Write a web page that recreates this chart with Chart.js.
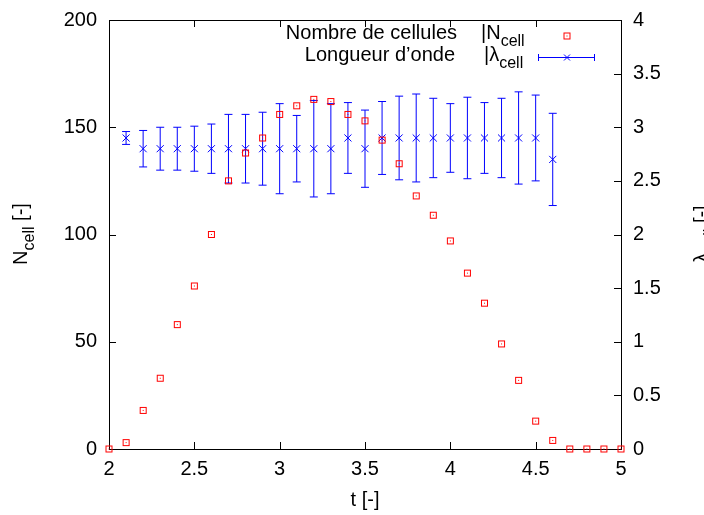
<!DOCTYPE html>
<html>
<head>
<meta charset="utf-8">
<script src="https://cdn.jsdelivr.net/npm/chart.js@4.4.0/dist/chart.umd.min.js"></script>
<style>
    html, body { margin: 0; padding: 0; background: #fff; }
    #wrap { width: 704px; height: 515px; }
</style>
</head>
<body>
<div id="wrap"><canvas id="myChart" width="704" height="515"></canvas></div>
<script>
// nombre de cellules
const tValues = [2.0, 2.1, 2.2, 2.3, 2.4, 2.5, 2.6, 2.7, 2.8, 2.9, 3.0, 3.1, 3.2, 3.3, 3.4, 3.5,
    3.6, 3.7, 3.8, 3.9, 4.0, 4.1, 4.2, 4.3, 4.4, 4.5, 4.6, 4.7, 4.8, 4.9, 5.0]
const nCell = [0, 3, 18, 33, 58, 76, 100, 125, 138, 145, 156, 160, 163, 162, 156, 153,
    144, 133, 118, 109, 97, 82, 68, 49, 32, 13, 4, 0, 0, 0, 0]

// longueur d'onde + barres d'erreur
const lambdaT = [2.1, 2.2, 2.3, 2.4, 2.5, 2.6, 2.7, 2.8, 2.9, 3.0, 3.1, 3.2, 3.3, 3.4, 3.5,
    3.6, 3.7, 3.8, 3.9, 4.0, 4.1, 4.2, 4.3, 4.4, 4.5, 4.6]
const lambdaCell = [2.9, 2.8, 2.8, 2.8, 2.8, 2.8, 2.8, 2.8, 2.8, 2.8, 2.8, 2.8, 2.8, 2.9, 2.8,
    2.9, 2.9, 2.9, 2.9, 2.9, 2.9, 2.9, 2.9, 2.9, 2.9, 2.7]
const lambdaErr = [0.06, 0.17, 0.2, 0.2, 0.21, 0.23, 0.32, 0.32, 0.34, 0.42, 0.31, 0.45, 0.42, 0.33, 0.36,
    0.34, 0.39, 0.41, 0.37, 0.32, 0.38, 0.33, 0.37, 0.43, 0.40, 0.43]

const xTicks = [2, 5, 0.5]
const yTicks = [0, 200, 50]
const y2Ticks = [0, 4, 0.5]

const RED = '#ff0000'
const BLUE = '#0000ff'
const FONT = '"Liberation Sans", Arial, sans-serif'

// carre rouge avec un point au centre
const sq = document.createElement('canvas')
sq.width = 9
sq.height = 9
let sctx = sq.getContext('2d')
sctx.strokeStyle = RED
sctx.lineWidth = 1
sctx.strokeRect(1.5, 1.5, 6, 6)
sctx.fillStyle = RED
sctx.fillRect(4, 4, 1, 1)

function vLabel(ctx, bx, cy, main, sub, tail) {
    ctx.save()
    ctx.font = '20px ' + FONT
    let w1 = ctx.measureText(main).width
    let w3 = ctx.measureText(tail).width
    ctx.font = '16px ' + FONT
    let w2 = ctx.measureText(sub).width
    let total = w1 + w2 + w3
    ctx.translate(bx, cy + total / 2)
    ctx.rotate(-Math.PI / 2)
    ctx.fillStyle = '#000'
    ctx.textBaseline = 'alphabetic'
    ctx.textAlign = 'left'
    ctx.font = '20px ' + FONT
    ctx.fillText(main, 0, 0)
    ctx.font = '16px ' + FONT
    ctx.fillText(sub, w1, 7)
    ctx.font = '20px ' + FONT
    ctx.fillText(tail, w1 + w2, 0)
    ctx.restore()
}

const decor = {
    id: 'decor',
    beforeDatasetsDraw(chart) {
        const ctx = chart.ctx
        const a = chart.chartArea
        const sx = chart.scales.x, sy = chart.scales.y, sy2 = chart.scales.y2
        ctx.save()
        ctx.strokeStyle = '#000'
        ctx.lineWidth = 1
        ctx.strokeRect(Math.round(a.left) + 0.5, Math.round(a.top) + 0.5,
            Math.round(a.right - a.left), Math.round(a.bottom - a.top))
        const tl = 7
        ctx.beginPath()
        sx.ticks.forEach(t => {
            let px = Math.round(sx.getPixelForValue(t.value)) + 0.5
            ctx.moveTo(px, a.bottom); ctx.lineTo(px, a.bottom - tl)
            ctx.moveTo(px, a.top); ctx.lineTo(px, a.top + tl)
        })
        sy.ticks.forEach(t => {
            let py = Math.round(sy.getPixelForValue(t.value)) + 0.5
            ctx.moveTo(a.left, py); ctx.lineTo(a.left + tl, py)
        })
        sy2.ticks.forEach(t => {
            let py = Math.round(sy2.getPixelForValue(t.value)) + 0.5
            ctx.moveTo(a.right, py); ctx.lineTo(a.right - tl, py)
        })
        ctx.stroke()

        // barres d'erreur
        ctx.strokeStyle = BLUE
        ctx.beginPath()
        lambdaT.forEach((t, i) => {
            let px = sx.getPixelForValue(t)
            let top = sy2.getPixelForValue(lambdaCell[i] + lambdaErr[i])
            let bot = sy2.getPixelForValue(lambdaCell[i] - lambdaErr[i])
            ctx.moveTo(px, top); ctx.lineTo(px, bot)
            ctx.moveTo(px - 4, top); ctx.lineTo(px + 4, top)
            ctx.moveTo(px - 4, bot); ctx.lineTo(px + 4, bot)
        })
        ctx.stroke()
        ctx.restore()
    },
    afterDraw(chart) {
        const ctx = chart.ctx
        const a = chart.chartArea
        ctx.save()
        // titres des axes
        vLabel(ctx, 27, 234, 'N', 'cell', ' [-]')
        vLabel(ctx, 707.5, 234, 'λ', 'cell', ' [-]')
        ctx.fillStyle = '#000'
        ctx.font = '20px ' + FONT
        ctx.textAlign = 'center'
        ctx.textBaseline = 'alphabetic'
        ctx.fillText('t [-]', (a.left + a.right) / 2, 506)

        // legende
        ctx.textAlign = 'right'
        ctx.fillText('Nombre de cellules', 457, 39)
        ctx.fillText('Longueur d\u2019onde', 455, 61)
        ctx.textAlign = 'left'
        ctx.fillText('|N', 481, 39)
        let wN = ctx.measureText('|N').width
        ctx.fillText('|λ', 484, 61)
        let wL = ctx.measureText('|λ').width
        ctx.font = '16px ' + FONT
        ctx.fillText('cell', 481 + wN, 46)
        ctx.fillText('cell', 484 + wL, 68)

        ctx.drawImage(sq, 567 - 4.5, 36 - 4.5)
        ctx.strokeStyle = BLUE
        ctx.lineWidth = 1
        ctx.beginPath()
        ctx.moveTo(538, 57.5); ctx.lineTo(595, 57.5)
        ctx.moveTo(538.5, 54); ctx.lineTo(538.5, 61)
        ctx.moveTo(594.5, 54); ctx.lineTo(594.5, 61)
        ctx.moveTo(564, 54.5); ctx.lineTo(570, 60.5)
        ctx.moveTo(570, 54.5); ctx.lineTo(564, 60.5)
        ctx.stroke()
        ctx.restore()
    }
}

const tickFont = { family: FONT, size: 20 }
const fmt = v => String(+v.toFixed(2))

function noPad(s) {
    s.paddingTop = 0
    s.paddingBottom = 0
}

let ctx = document.getElementById('myChart').getContext('2d')
let myChart = new Chart(ctx, {
    type: 'scatter',
    data: {
        datasets: [{
            label: 'Nombre de cellules',
            data: tValues.map((t, i) => ({ x: t, y: nCell[i] })),
            yAxisID: 'y',
            pointStyle: sq,
            pointRadius: 5,
            borderColor: RED,
            backgroundColor: 'transparent',
            clip: false,
        }, {
            label: 'Longueur d\u2019onde',
            data: lambdaT.map((t, i) => ({ x: t, y: lambdaCell[i] })),
            yAxisID: 'y2',
            pointStyle: 'crossRot',
            pointRadius: 5,
            borderColor: BLUE,
            backgroundColor: BLUE,
            borderWidth: 1,
            clip: false,
        }]
    },
    options: {
        responsive: false,
        animation: false,
        events: [],
        layout: { padding: { top: 20, left: 0, right: 0, bottom: 0 } },
        plugins: {
            legend: { display: false },
            tooltip: { enabled: false },
        },
        scales: {
            x: {
                type: 'linear',
                min: xTicks[0],
                max: xTicks[1],
                grid: { display: false, drawTicks: false },
                border: { display: false },
                ticks: { stepSize: xTicks[2], font: tickFont, color: '#000', padding: 8, maxRotation: 0, callback: fmt },
                afterFit: s => { s.height = 66; s.paddingLeft = 0; s.paddingRight = 0 },
            },
            y: {
                position: 'left',
                min: yTicks[0],
                max: yTicks[1],
                grid: { display: false, drawTicks: false },
                border: { display: false },
                ticks: { stepSize: yTicks[2], font: tickFont, color: '#000', padding: 12, callback: fmt },
                afterFit: s => { s.width = 109; noPad(s) },
            },
            y2: {
                position: 'right',
                min: y2Ticks[0],
                max: y2Ticks[1],
                grid: { display: false, drawTicks: false },
                border: { display: false },
                ticks: { stepSize: y2Ticks[2], font: tickFont, color: '#000', padding: 12, callback: fmt },
                afterFit: s => { s.width = 83; noPad(s) },
            },
        },
    },
    plugins: [decor],
})
</script>
</body>
</html>
